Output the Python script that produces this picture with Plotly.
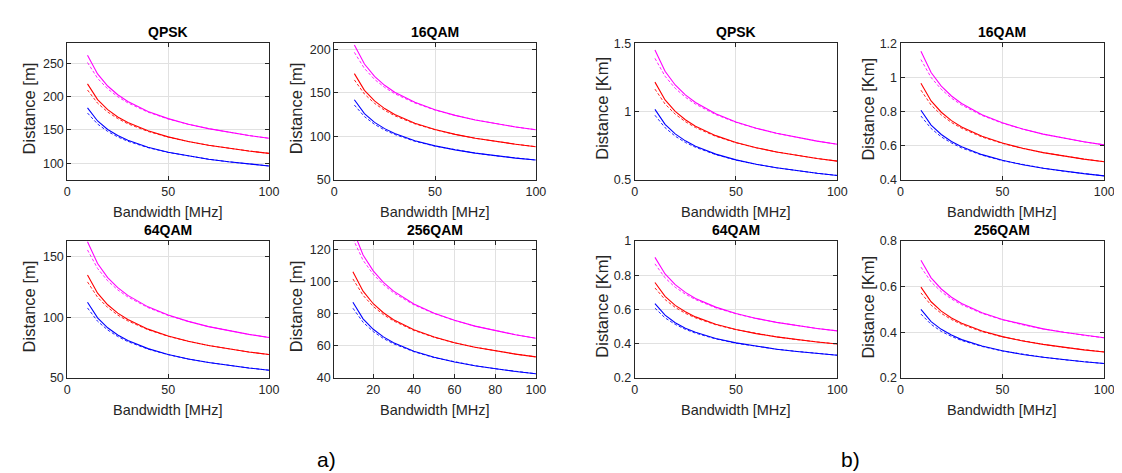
import plotly.graph_objects as go

# ---------------- data ----------------
BW = [10, 15, 20, 25, 30, 40, 50, 60, 70, 80, 90, 100]

# a) distances in metres  (solid / dashed), magenta, red, blue
a_qpsk_mag = [262, 233.9, 215.8, 202.7, 192.6, 177.7, 166.9, 158.6, 151.9, 146.4, 141.6, 137.5]
a_qpsk_mag_d = [251.0, 227.3, 211.5, 199.7, 190.5, 176.6, 166.4, 158.4, 151.9, 146.4, 141.6, 137.5]
a_qpsk_red = [219, 195.5, 180.4, 169.4, 161.0, 148.6, 139.6, 132.6, 127.0, 122.4, 118.4, 114.9]
a_qpsk_red_d = [209.8, 190.0, 176.8, 166.9, 159.2, 147.7, 139.2, 132.5, 127.0, 122.4, 118.4, 114.9]
a_qpsk_blu = [183, 163.4, 150.7, 141.6, 134.5, 124.1, 116.6, 110.8, 106.1, 102.2, 98.9, 96.0]
a_qpsk_blu_d = [175.3, 158.8, 147.7, 139.5, 133.0, 123.4, 116.3, 110.7, 106.1, 102.2, 98.9, 96.0]

a_16_mag = [205, 183.0, 168.8, 158.6, 150.7, 139.1, 130.6, 124.1, 118.9, 114.5, 110.8, 107.6]
a_16_mag_d = [196.4, 177.9, 165.4, 156.2, 149.0, 138.3, 130.2, 124.0, 118.9, 114.5, 110.8, 107.6]
a_16_red = [172, 152.9, 140.7, 131.9, 125.1, 115.1, 107.9, 102.3, 97.8, 94.1, 91.0, 88.2]
a_16_red_d = [164.8, 148.6, 137.9, 129.9, 123.7, 114.4, 107.6, 102.2, 97.8, 94.1, 91.0, 88.2]
a_16_blu = [142, 126.2, 116.1, 108.9, 103.3, 95.0, 89.1, 84.5, 80.8, 77.7, 75.1, 72.9]
a_16_blu_d = [136.0, 122.7, 113.8, 107.3, 102.2, 94.4, 88.8, 84.4, 80.8, 77.7, 75.1, 72.9]

a_64_mag = [162.5, 144.5, 132.9, 124.6, 118.2, 108.7, 101.9, 96.7, 92.4, 88.9, 86.0, 83.4]
a_64_mag_d = [155.7, 140.4, 130.2, 122.7, 116.9, 108.1, 101.6, 96.6, 92.4, 88.9, 86.0, 83.4]
a_64_red = [135, 120.0, 110.4, 103.5, 98.2, 90.3, 84.7, 80.3, 76.8, 73.9, 71.4, 69.3]
a_64_red_d = [129.3, 116.6, 108.2, 101.9, 97.1, 89.8, 84.4, 80.2, 76.8, 73.9, 71.4, 69.3]
a_64_blu = [112.5, 99.6, 91.4, 85.5, 80.9, 74.2, 69.4, 65.7, 62.8, 60.3, 58.2, 56.4]
a_64_blu_d = [107.8, 96.8, 89.6, 84.2, 80.0, 73.8, 69.2, 65.6, 62.8, 60.3, 58.2, 56.4]

a_256_mag = [132, 116.4, 106.5, 99.4, 93.9, 85.9, 80.2, 75.8, 72.2, 69.3, 66.8, 64.7]
a_256_mag_d = [126.5, 113.1, 104.4, 97.9, 92.9, 85.4, 80.0, 75.7, 72.2, 69.3, 66.8, 64.7]
a_256_red = [106, 93.9, 86.1, 80.5, 76.2, 69.9, 65.4, 61.9, 59.1, 56.8, 54.8, 53.1]
a_256_red_d = [101.5, 91.3, 84.4, 79.3, 75.4, 69.5, 65.2, 61.8, 59.1, 56.8, 54.8, 53.1]
a_256_blu = [87, 76.7, 70.2, 65.5, 61.9, 56.6, 52.8, 49.9, 47.6, 45.7, 44.0, 42.6]
a_256_blu_d = [83.3, 74.6, 68.8, 64.5, 61.2, 56.3, 52.6, 49.9, 47.6, 45.7, 44.0, 42.6]

# b) distances in km
b_qpsk_mag = [1.450, 1.294, 1.194, 1.122, 1.066, 0.984, 0.924, 0.878, 0.841, 0.810, 0.784, 0.761]
b_qpsk_mag_d = [1.389, 1.258, 1.170, 1.105, 1.054, 0.978, 0.921, 0.877, 0.841, 0.810, 0.784, 0.761]
b_qpsk_red = [1.215, 1.085, 1.001, 0.940, 0.893, 0.824, 0.774, 0.736, 0.705, 0.679, 0.657, 0.638]
b_qpsk_red_d = [1.164, 1.055, 0.981, 0.926, 0.883, 0.819, 0.772, 0.735, 0.705, 0.679, 0.657, 0.638]
b_qpsk_blu = [1.016, 0.907, 0.837, 0.786, 0.747, 0.689, 0.647, 0.615, 0.589, 0.568, 0.549, 0.533]
b_qpsk_blu_d = [0.973, 0.882, 0.820, 0.774, 0.739, 0.685, 0.645, 0.614, 0.589, 0.568, 0.549, 0.533]

b_16_mag = [1.152, 1.028, 0.949, 0.891, 0.847, 0.781, 0.734, 0.698, 0.668, 0.644, 0.623, 0.605]
b_16_mag_d = [1.104, 0.999, 0.930, 0.878, 0.838, 0.777, 0.732, 0.697, 0.668, 0.644, 0.623, 0.605]
b_16_red = [0.966, 0.862, 0.796, 0.747, 0.710, 0.655, 0.616, 0.585, 0.560, 0.540, 0.522, 0.507]
b_16_red_d = [0.925, 0.838, 0.780, 0.736, 0.702, 0.651, 0.614, 0.584, 0.560, 0.540, 0.522, 0.507]
b_16_blu = [0.808, 0.721, 0.666, 0.625, 0.594, 0.548, 0.515, 0.489, 0.469, 0.451, 0.437, 0.424]
b_16_blu_d = [0.774, 0.701, 0.652, 0.616, 0.587, 0.545, 0.513, 0.489, 0.469, 0.451, 0.437, 0.424]

b_64_mag = [0.905, 0.808, 0.745, 0.700, 0.665, 0.614, 0.577, 0.548, 0.525, 0.506, 0.489, 0.475]
b_64_mag_d = [0.867, 0.785, 0.730, 0.690, 0.658, 0.610, 0.575, 0.547, 0.525, 0.506, 0.489, 0.475]
b_64_red = [0.758, 0.677, 0.624, 0.587, 0.557, 0.514, 0.483, 0.459, 0.440, 0.424, 0.410, 0.398]
b_64_red_d = [0.726, 0.658, 0.612, 0.578, 0.551, 0.511, 0.482, 0.459, 0.440, 0.424, 0.410, 0.398]
b_64_blu = [0.635, 0.567, 0.523, 0.491, 0.467, 0.431, 0.405, 0.385, 0.368, 0.355, 0.343, 0.333]
b_64_blu_d = [0.608, 0.551, 0.513, 0.484, 0.462, 0.428, 0.403, 0.384, 0.368, 0.355, 0.343, 0.333]

b_256_mag = [0.716, 0.639, 0.590, 0.554, 0.526, 0.486, 0.456, 0.434, 0.415, 0.400, 0.387, 0.376]
b_256_mag_d = [0.686, 0.621, 0.578, 0.546, 0.521, 0.483, 0.455, 0.433, 0.415, 0.400, 0.387, 0.376]
b_256_red = [0.598, 0.534, 0.493, 0.463, 0.440, 0.406, 0.381, 0.362, 0.347, 0.334, 0.323, 0.314]
b_256_red_d = [0.573, 0.519, 0.483, 0.456, 0.435, 0.403, 0.380, 0.362, 0.347, 0.334, 0.323, 0.314]
b_256_blu = [0.501, 0.447, 0.413, 0.388, 0.368, 0.340, 0.319, 0.303, 0.291, 0.280, 0.271, 0.263]
b_256_blu_d = [0.480, 0.435, 0.404, 0.382, 0.364, 0.338, 0.318, 0.303, 0.291, 0.280, 0.271, 0.263]

TITLES = ["QPSK", "16QAM", "64QAM", "256QAM"]
X_LABEL = "Bandwidth [MHz]"
Y_LABEL_A = "Distance [m]"
Y_LABEL_B = "Distance [Km]"

# ---------------- layout helpers ----------------
W, H = 1122, 473
FONT = "Arial, 'Liberation Sans', Helvetica, sans-serif"
MAG, RED, BLU = "#ff00ff", "#ff0000", "#0000ff"

panels = [
    # title, ylabel, series, yrange, yticks, xrange, xticks, box (x0,x1,y0,y1 px)
    (TITLES[0], Y_LABEL_A, [(a_qpsk_mag, a_qpsk_mag_d, MAG), (a_qpsk_red, a_qpsk_red_d, RED), (a_qpsk_blu, a_qpsk_blu_d, BLU)],
     [75, 280], [100, 150, 200, 250], [0, 100], [0, 50, 100], (57, 261, 29, 170)),
    (TITLES[1], Y_LABEL_A, [(a_16_mag, a_16_mag_d, MAG), (a_16_red, a_16_red_d, RED), (a_16_blu, a_16_blu_d, BLU)],
     [50, 207], [50, 100, 150, 200], [0, 100], [0, 50, 100], (327, 531, 29, 170)),
    (TITLES[2], Y_LABEL_A, [(a_64_mag, a_64_mag_d, MAG), (a_64_red, a_64_red_d, RED), (a_64_blu, a_64_blu_d, BLU)],
     [50, 163], [50, 100, 150], [0, 100], [0, 50, 100], (57, 261, 233, 374)),
    (TITLES[3], Y_LABEL_A, [(a_256_mag, a_256_mag_d, MAG), (a_256_red, a_256_red_d, RED), (a_256_blu, a_256_blu_d, BLU)],
     [40, 125], [40, 60, 80, 100, 120], [0.8, 100], [20, 40, 60, 80, 100], (327, 531, 233, 374)),
    (TITLES[0], Y_LABEL_B, [(b_qpsk_mag, b_qpsk_mag_d, MAG), (b_qpsk_red, b_qpsk_red_d, RED), (b_qpsk_blu, b_qpsk_blu_d, BLU)],
     [0.5, 1.5], [0.5, 1, 1.5], [0, 100], [0, 50, 100], (631, 836, 29, 170)),
    (TITLES[1], Y_LABEL_B, [(b_16_mag, b_16_mag_d, MAG), (b_16_red, b_16_red_d, RED), (b_16_blu, b_16_blu_d, BLU)],
     [0.4, 1.2], [0.4, 0.6, 0.8, 1, 1.2], [0, 100], [0, 50, 100], (900, 1106, 29, 170)),
    (TITLES[2], Y_LABEL_B, [(b_64_mag, b_64_mag_d, MAG), (b_64_red, b_64_red_d, RED), (b_64_blu, b_64_blu_d, BLU)],
     [0.2, 1.0], [0.2, 0.4, 0.6, 0.8, 1], [0, 100], [0, 50, 100], (631, 836, 233, 374)),
    (TITLES[3], Y_LABEL_B, [(b_256_mag, b_256_mag_d, MAG), (b_256_red, b_256_red_d, RED), (b_256_blu, b_256_blu_d, BLU)],
     [0.2, 0.8], [0.2, 0.4, 0.6, 0.8], [0, 100], [0, 50, 100], (900, 1106, 233, 374)),
]

fig = go.Figure()
annotations = []
layout = {}

for i, (title, ylab, series, yr, yt, xr, xt, box) in enumerate(panels):
    n = "" if i == 0 else str(i + 1)
    xa, ya = "x" + n, "y" + n
    x0, x1, y0, y1 = box
    for solid, dashed, col in series:
        fig.add_trace(go.Scatter(x=BW, y=dashed, mode="lines", xaxis=xa, yaxis=ya,
                                 line=dict(color=col, width=1, dash="3px,2px"), opacity=0.85,
                                 showlegend=False, hoverinfo="skip"))
        fig.add_trace(go.Scatter(x=BW, y=solid, mode="lines", xaxis=xa, yaxis=ya,
                                 line=dict(color=col, width=1.1), showlegend=False))
    common = dict(showline=True, linecolor="#262626", linewidth=1, mirror="ticks",
                  ticks="inside", ticklen=4, tickcolor="#262626",
                  showgrid=True, gridcolor="#e1e1e1", gridwidth=1, zeroline=False,
                  tickfont=dict(family=FONT, size=12.5, color="#262626"))
    layout["xaxis" + n] = dict(common, domain=[x0 / W, x1 / W], anchor=ya, range=xr,
                               tickvals=xt, ticktext=[str(v) for v in xt])
    layout["yaxis" + n] = dict(common, domain=[1 - y1 / H, 1 - y0 / H], anchor=xa, range=yr,
                               tickvals=yt)
    cx = (x0 + x1) / 2 / W
    annotations.append(dict(text="<b>" + title + "</b>", x=cx, y=1 - (y0 - 11) / H,
                            xref="paper", yref="paper", showarrow=False,
                            font=dict(family=FONT, size=14, color="#000000"),
                            xanchor="center", yanchor="middle"))
    annotations.append(dict(text=X_LABEL, x=cx, y=1 - (y1 + 33) / H,
                            xref="paper", yref="paper", showarrow=False,
                            font=dict(family=FONT, size=14.5, color="#262626"),
                            xanchor="center", yanchor="middle"))
    ylx = x0 - 39 if ylab == Y_LABEL_A else x0 - 33
    annotations.append(dict(text=ylab, x=ylx / W, y=1 - ((y0 + y1) / 2 - 3) / H,
                            xref="paper", yref="paper", showarrow=False, textangle=-90,
                            font=dict(family=FONT, size=16.5, color="#262626"),
                            xanchor="center", yanchor="middle"))

annotations.append(dict(text="a)", x=319 / W, y=1 - 458 / H, xref="paper", yref="paper",
                        showarrow=False, font=dict(family=FONT, size=21, color="#000000"),
                        xanchor="center", yanchor="middle"))
annotations.append(dict(text="b)", x=849 / W, y=1 - 458 / H, xref="paper", yref="paper",
                        showarrow=False, font=dict(family=FONT, size=21, color="#000000"),
                        xanchor="center", yanchor="middle"))

fig.update_layout(width=W, height=H, margin=dict(l=0, r=0, t=0, b=0),
                  paper_bgcolor="white", plot_bgcolor="white",
                  annotations=annotations, **layout)

fig.write_html("out.html")
